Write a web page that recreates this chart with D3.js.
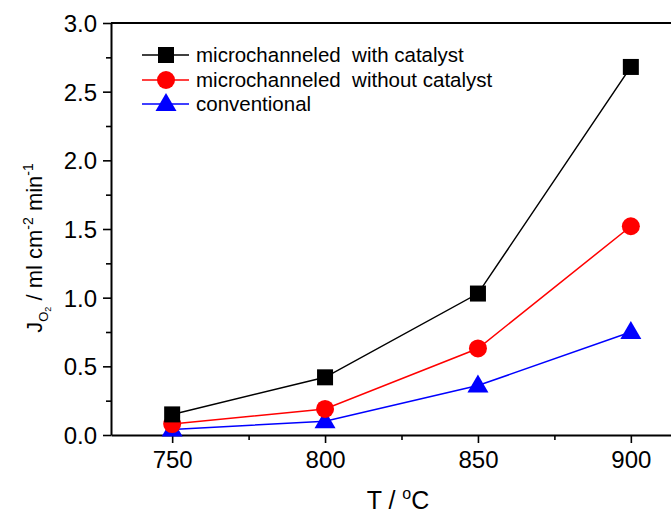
<!DOCTYPE html>
<html>
<head>
<meta charset="utf-8">
<script src="https://cdn.jsdelivr.net/npm/d3@7"></script>
<style>
  html, body { margin: 0; padding: 0; background: #fff; }
  svg { display: block; font-family: "Liberation Sans", Arial, sans-serif; }
  text { white-space: pre; }
</style>
</head>
<body>
<svg id="chart" width="671" height="515"></svg>
<script>
// Oxygen permeation flux vs. temperature
const temperatures = [750, 800, 850, 900];
const withCatalyst = [0.15, 0.42, 1.03, 2.68];
const withoutCatalyst = [0.08, 0.19, 0.63, 1.52];
const conventional = [0.04, 0.10, 0.36, 0.75];
const seriesNames = ["microchanneled  with catalyst", "microchanneled  without catalyst", "conventional"];
const xTicks = [750, 800, 850, 900];
const yTicks = [0.0, 0.5, 1.0, 1.5, 2.0, 2.5, 3.0];

const series = [
  { name: seriesNames[0], values: withCatalyst, color: "#000000", symbol: "square" },
  { name: seriesNames[1], values: withoutCatalyst, color: "#ff0000", symbol: "circle" },
  { name: seriesNames[2], values: conventional, color: "#0000ff", symbol: "triangle" }
];

const svg = d3.select("#chart");
const plotLeft = 111, plotTop = 23, plotBottom = 435, plotRight = 692;

const x = d3.scaleLinear().domain([730, 920]).range([plotLeft, plotRight]);
const y = d3.scaleLinear().domain([0, 3]).range([plotBottom, plotTop]);

// frame (top and right edges)
svg.append("line").attr("x1", plotLeft).attr("x2", plotRight).attr("y1", plotTop).attr("y2", plotTop)
  .attr("stroke", "#000").attr("stroke-width", 2);
svg.append("line").attr("x1", plotRight).attr("x2", plotRight).attr("y1", plotTop).attr("y2", plotBottom)
  .attr("stroke", "#000").attr("stroke-width", 2);

// x axis
const xAxis = svg.append("g").attr("transform", `translate(0,${plotBottom})`)
  .call(d3.axisBottom(x).tickValues(xTicks).tickSize(8).tickSizeOuter(0).tickFormat(d3.format("d")));
svg.append("g").attr("transform", `translate(0,${plotBottom})`)
  .call(d3.axisBottom(x).tickValues([775, 825, 875]).tickSize(5).tickSizeOuter(0).tickFormat(""))
  .call(g => g.select(".domain").remove());

// y axis
const yAxis = svg.append("g").attr("transform", `translate(${plotLeft},0)`)
  .call(d3.axisLeft(y).tickValues(yTicks).tickSize(8).tickSizeOuter(0).tickFormat(d3.format(".1f")));
svg.append("g").attr("transform", `translate(${plotLeft},0)`)
  .call(d3.axisLeft(y).tickValues([0.25, 0.75, 1.25, 1.75, 2.25, 2.75]).tickSize(5).tickSizeOuter(0).tickFormat(""))
  .call(g => g.select(".domain").remove());

svg.selectAll(".domain").attr("stroke", "#000").attr("stroke-width", 2);
svg.selectAll(".tick line").attr("stroke", "#000").attr("stroke-width", 1.6);
xAxis.selectAll(".tick text").attr("font-size", 24).attr("fill", "#000").attr("dy", null).attr("y", 33);
yAxis.selectAll(".tick text").attr("font-size", 24).attr("fill", "#000").attr("x", -14).attr("dy", "0.36em");

// symbol drawer
function drawSymbol(g, symbol, cx, cy, color) {
  if (symbol === "square") {
    g.append("rect").attr("x", cx - 8).attr("y", cy - 8).attr("width", 16).attr("height", 16).attr("fill", color);
  } else if (symbol === "circle") {
    g.append("circle").attr("cx", cx).attr("cy", cy).attr("r", 9).attr("fill", color);
  } else {
    g.append("path")
      .attr("d", `M${cx},${cy - 11}L${cx + 10.5},${cy + 7}L${cx - 10.5},${cy + 7}Z`)
      .attr("fill", color);
  }
}

const line = d3.line().x((d, i) => x(temperatures[i])).y(d => y(d));
const plot = svg.append("g");
series.forEach(s => {
  plot.append("path").datum(s.values).attr("d", line)
    .attr("fill", "none").attr("stroke", s.color).attr("stroke-width", 1.5);
});
series.slice().reverse().forEach(s => {
  s.values.forEach((v, i) => drawSymbol(plot, s.symbol, x(temperatures[i]), y(v), s.color));
});

// legend
const legend = svg.append("g");
const legendRows = [55, 80, 104];
series.forEach((s, i) => {
  const ly = legendRows[i];
  legend.append("line").attr("x1", 142).attr("x2", 189).attr("y1", ly).attr("y2", ly)
    .attr("stroke", s.color).attr("stroke-width", 1.5);
  drawSymbol(legend, s.symbol, 166, ly, s.color);
  legend.append("text").attr("x", 196).attr("y", ly).attr("dy", "0.35em")
    .attr("font-size", 20.5).attr("fill", "#000").text(s.name);
});

// axis titles
svg.append("text").attr("x", 398).attr("y", 509).attr("text-anchor", "middle")
  .attr("font-size", 25).attr("fill", "#000")
  .html('T / <tspan dy="-10" font-size="16">o</tspan><tspan dy="10">C</tspan>');

const yt = svg.append("text").attr("transform", "translate(42,248) rotate(-90)")
  .attr("text-anchor", "middle").attr("font-size", 22).attr("fill", "#000");
yt.append("tspan").text("J");
yt.append("tspan").attr("dy", 6).attr("font-size", 13).text("O");
yt.append("tspan").attr("dy", 3).attr("font-size", 9).text("2");
yt.append("tspan").attr("dy", -9).text(" / ml cm");
yt.append("tspan").attr("dy", -9).attr("font-size", 14).text("-2");
yt.append("tspan").attr("dy", 9).text(" min");
yt.append("tspan").attr("dy", -9).attr("font-size", 14).text("-1");
</script>
</body>
</html>
